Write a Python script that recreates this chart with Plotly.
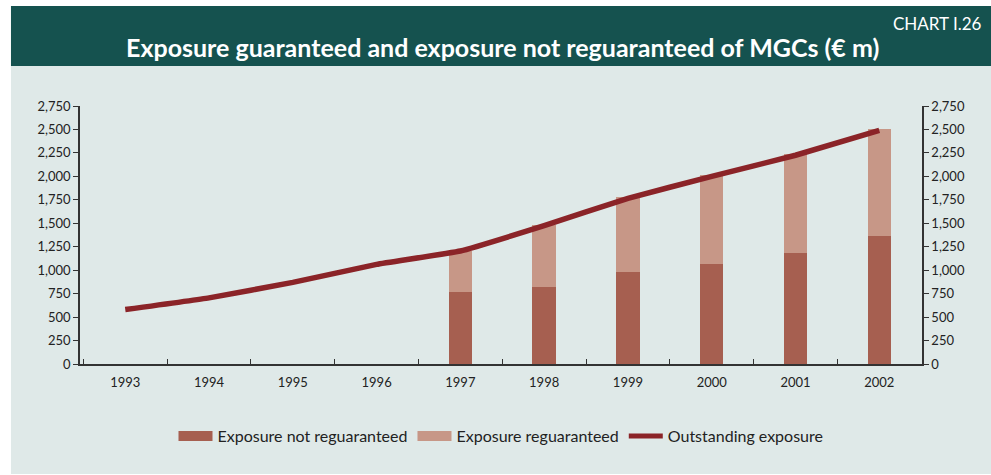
import plotly.graph_objects as go

years = ["1993", "1994", "1995", "1996", "1997", "1998", "1999", "2000", "2001", "2002"]
not_reguaranteed = [None, None, None, None, 768, 821, 984, 1062, 1186, 1362]
reguaranteed = [None, None, None, None, 437, 665, 796, 955, 1054, 1140]
outstanding = [580, 705, 870, 1062, 1205, 1475, 1765, 2000, 2225, 2490]
y_ticks = [0, 250, 500, 750, 1000, 1250, 1500, 1750, 2000, 2250, 2500, 2750]

C_DARK = "#a65f50"
C_LIGHT = "#c79787"
C_LINE = "#8b2428"
BG = "#dfe9e8"
HEAD = "#15524f"
FONT = "Lato"

fig = go.Figure()
fig.add_trace(go.Bar(x=years, y=not_reguaranteed, marker=dict(color=C_DARK, line=dict(width=0)),
                     width=0.28, showlegend=False, name="Exposure not reguaranteed"))
fig.add_trace(go.Bar(x=years, y=reguaranteed, marker=dict(color=C_LIGHT, line=dict(width=0)),
                     width=0.28, showlegend=False, name="Exposure reguaranteed"))
fig.add_trace(go.Scatter(x=years, y=outstanding, mode="lines", line=dict(color=C_LINE, width=5.5, shape="spline", smoothing=0.3),
                         showlegend=False, name="Outstanding exposure"))
# a trace on the right axis to show mirrored ticks
fig.add_trace(go.Scatter(x=years, y=outstanding, yaxis="y2", mode="lines", line=dict(width=0),
                         showlegend=False, hoverinfo="skip", opacity=0))

# legend entries
fig.add_trace(go.Scatter(x=[None], y=[None], mode="lines", line=dict(color=C_DARK, width=10), name="Exposure not reguaranteed"))
fig.add_trace(go.Scatter(x=[None], y=[None], mode="lines", line=dict(color=C_LIGHT, width=10), name="Exposure reguaranteed"))
fig.add_trace(go.Scatter(x=[None], y=[None], mode="lines", line=dict(color=C_LINE, width=5), name="Outstanding exposure"))

W, H = 991, 475
L, R, T, B = 80, 921.7, 106, 364
pw, ph = R - L, B - T
def px(x): return (x - L) / pw
def py(y): return (B - y) / ph

axis_common = dict(range=[0, 2750], tickvals=y_ticks, tickformat=",d", showgrid=False, zeroline=False,
                   showline=True, linecolor="#333333", linewidth=1.5, ticks="outside", ticklen=5,
                   tickcolor="#333333", tickfont=dict(family=FONT, size=13, color="#222222"))

fig.update_layout(
    width=W, height=H,
    margin=dict(l=L, r=W - R, t=T, b=H - B),
    paper_bgcolor="white", plot_bgcolor=BG,
    barmode="stack",
    font=dict(family=FONT, size=13, color="#222222"),
    xaxis=dict(type="category", range=[-0.54, 9.51], showgrid=False, showline=True, linecolor="#333333",
               linewidth=1.5, ticks="inside", ticklen=5, tickcolor="#333333", tickson="boundaries",
               ticklabelstandoff=6,
               tickfont=dict(family=FONT, size=13, color="#222222")),
    yaxis=dict(**axis_common, side="left"),
    yaxis2=dict(**axis_common, side="right", overlaying="y"),
    legend=dict(orientation="h", x=0.5, xanchor="center", y=py(436), yanchor="middle",
                bgcolor="rgba(0,0,0,0)", font=dict(family=FONT, size=16, color="#222222"),
                itemwidth=34, tracegroupgap=0, traceorder="normal"),
    shapes=[
        dict(type="rect", xref="paper", yref="paper", x0=px(11), x1=px(991), y0=py(66), y1=py(474),
             fillcolor=BG, line=dict(width=0), layer="below"),
        dict(type="rect", xref="paper", yref="paper", x0=px(11), x1=px(991), y0=py(6), y1=py(66),
             fillcolor=HEAD, line=dict(width=0), layer="below"),
    ],
    annotations=[
        dict(text="CHART I.26", xref="paper", yref="paper", x=px(984), y=py(23), xanchor="right", yanchor="middle",
             showarrow=False, font=dict(family=FONT, size=17, color="white")),
        dict(text="<b>Exposure guaranteed and exposure not reguaranteed of MGCs (€ m)</b>", xref="paper", yref="paper",
             x=px(502), y=py(47), xanchor="center", yanchor="middle", showarrow=False,
             font=dict(family=FONT, size=25, color="white")),
    ],
)

fig.write_html("out.html")
